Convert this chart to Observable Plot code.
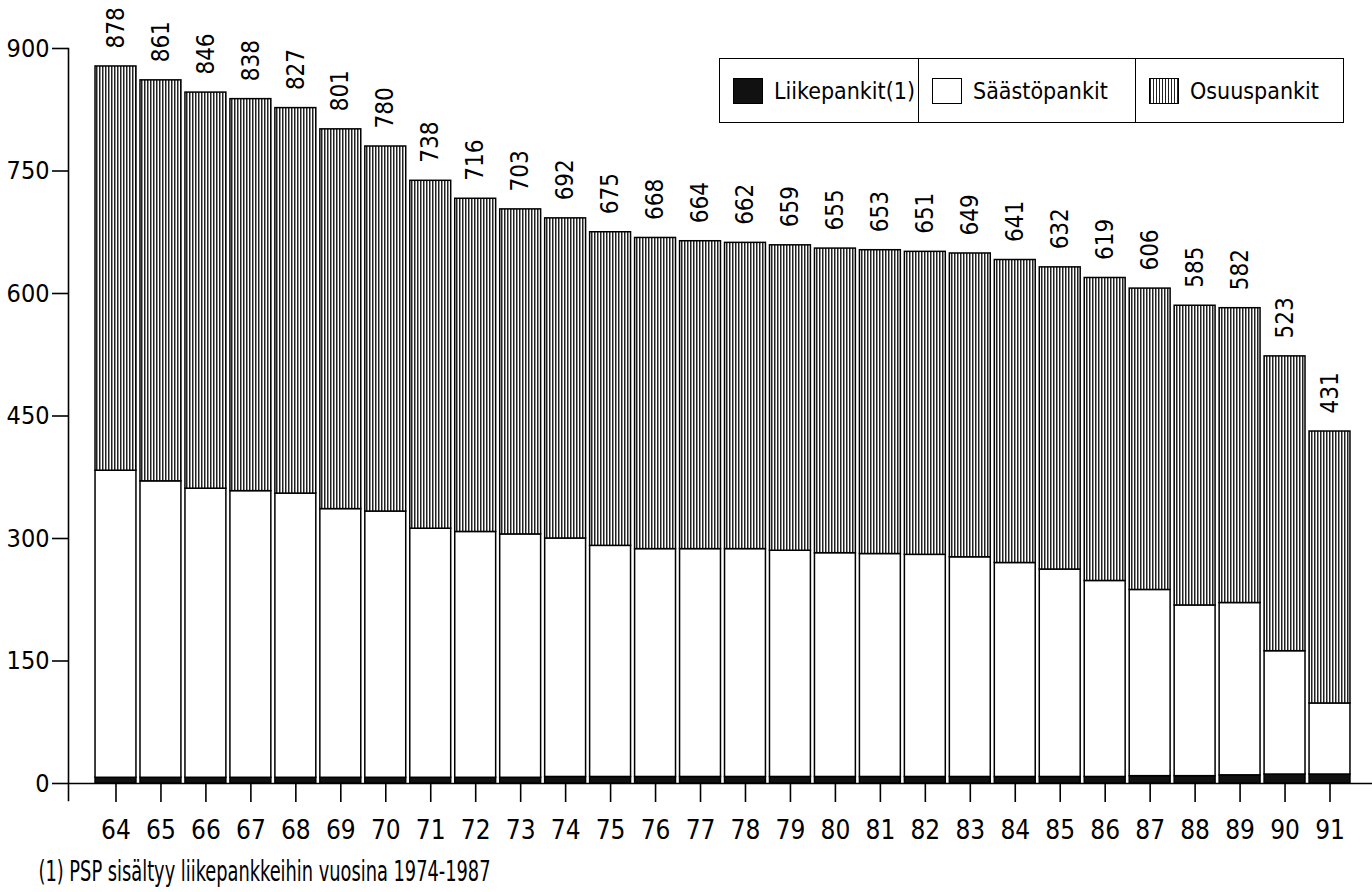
<!DOCTYPE html>
<html>
<head>
<meta charset="utf-8">
<script src="https://cdn.jsdelivr.net/npm/d3@7"></script>
<script src="https://cdn.jsdelivr.net/npm/@observablehq/plot@0.6"></script>
<style>
  html, body { margin: 0; padding: 0; background: #fff; }
  #wrap { position: relative; width: 1372px; height: 892px; font-family: "Liberation Sans Narrow", "DejaVu Sans Condensed", "Roboto", sans-serif; color: #000; }
  #legend { position: absolute; left: 719px; top: 58px; height: 65px; display: flex; border: 1.5px solid #000; background: #fff; box-sizing: border-box; }
  .cell { display: flex; align-items: center; height: 100%; box-sizing: border-box; padding-left: 13px; font-size: 23px; white-space: nowrap; }
  .cell + .cell { border-left: 1.5px solid #000; }
  .sw { flex: none; width: 30px; height: 26px; border: 1.5px solid #000; box-sizing: border-box; margin-right: 11px; }
</style>
</head>
<body>
<div id="wrap"></div>
<script>
// ---- data ----
const years = ["64","65","66","67","68","69","70","71","72","73","74","75","76","77","78","79","80","81","82","83","84","85","86","87","88","89","90","91"];
const seriesNames = ["Liikepankit(1)", "Säästöpankit", "Osuuspankit"];
const liikepankit = [7,7,7,7,7,7,7,7,7,7,8,8,8,8,8,8,8,8,8,8,8,8,8,9,9,10,11,11];
const saastopankit = [376,363,354,351,348,329,326,305,301,298,292,283,279,279,279,277,274,273,272,269,262,254,240,228,209,211,151,87];
const osuuspankit = [495,491,485,480,472,465,447,426,408,398,392,384,381,377,375,374,373,372,371,372,371,370,371,369,367,361,361,333];
const yTicks = [0,150,300,450,600,750,900];
const footnote = "(1) PSP sisältyy liikepankkeihin vuosina 1974-1987";
const seriesFills = ["#111", "#fff", "url(#hatch)"];

// ---- build tables ----
const seriesValues = [liikepankit, saastopankit, osuuspankit];
const long = [];
years.forEach((yr, i) => {
  seriesNames.forEach((s, k) => long.push({year: yr, series: s, value: seriesValues[k][i]}));
});
const totals = years.map((yr, i) => ({year: yr, total: liikepankit[i] + saastopankit[i] + osuuspankit[i]}));

const font = '"Liberation Sans Narrow", "DejaVu Sans Condensed", "Roboto", sans-serif';

const svg = Plot.plot({
  width: 1372,
  height: 892,
  marginLeft: 68,
  marginRight: 0,
  marginTop: 48,
  marginBottom: 92,
  style: {fontFamily: font, background: "white", color: "black"},
  x: {type: "band", domain: years, range: [73, 1372], paddingInner: 0.09, paddingOuter: 0.49, round: false},
  y: {domain: [0, 900], range: [783, 48]},
  color: {domain: seriesNames, range: seriesFills},
  marks: [
    Plot.barY(long, Plot.stackY({x: "year", y: "value", fill: "series", stroke: "#000", strokeWidth: 1.5})),
    Plot.ruleY([0], {stroke: "#000", strokeWidth: 1.6}),
    Plot.frame({anchor: "left", stroke: "#000", strokeWidth: 1.6}),
    Plot.axisY({ticks: yTicks, tickSize: 16, tickPadding: 3, fontSize: 25, label: null, strokeWidth: 1.6}),
    Plot.axisX({tickSize: 19, tickPadding: 18, dy: -17, fontSize: 26, label: null, strokeWidth: 1.6}),
    Plot.text(totals, {x: "year", y: "total", text: d => String(d.total), rotate: -90, textAnchor: "start", lineAnchor: "middle", dy: -18, fontSize: 24, fill: "#000"}),
    Plot.text([footnote], {frameAnchor: "bottom-left", dx: -30, dy: 72, textAnchor: "start", lineAnchor: "middle", fontSize: 28, fill: "#000"})
  ]
});

// hatch pattern for Osuuspankit
const defs = d3.select(svg).insert("defs", ":first-child");
const pat = defs.append("pattern").attr("id", "hatch").attr("patternUnits", "userSpaceOnUse").attr("width", 3).attr("height", 12);
pat.append("rect").attr("width", 3).attr("height", 12).attr("fill", "#fff");
pat.append("rect").attr("width", 1.5).attr("height", 12).attr("fill", "#222");

// font sizes of the texts (forced as styles)
d3.select(svg).selectAll('g[aria-label="y-axis tick label"] text').style("font-size", "25px");
d3.select(svg).selectAll('g[aria-label="x-axis tick label"] text').style("font-size", "26px");
const totalSet = new Set(totals.map(d => String(d.total)));
d3.select(svg).selectAll("text").filter(function() { return totalSet.has(this.textContent) && this.getAttribute("transform") && this.getAttribute("transform").includes("rotate"); })
  .style("font-size", "24px");
// the reference uses a very narrow lettering; compress the footnote to its width
d3.select(svg).selectAll("text").filter(function() { return this.textContent === footnote; })
  .style("font-size", "28px")
  .attr("textLength", 452).attr("lengthAdjust", "spacingAndGlyphs");

const wrap = document.getElementById("wrap");
wrap.appendChild(svg);

// legend
const legend = document.createElement("div");
legend.id = "legend";
const cellWidths = [198, 217, 208];
const swatchBg = ["#111", "#fff", "repeating-linear-gradient(90deg, #222 0 1.5px, #fff 1.5px 3px)"];
seriesNames.forEach((s, k) => {
  const cell = document.createElement("div");
  cell.className = "cell";
  cell.style.width = cellWidths[k] + "px";
  const sw = document.createElement("div");
  sw.className = "sw";
  sw.style.background = swatchBg[k];
  const label = document.createElement("span");
  label.textContent = s;
  cell.appendChild(sw);
  cell.appendChild(label);
  legend.appendChild(cell);
});
wrap.appendChild(legend);
</script>
</body>
</html>
